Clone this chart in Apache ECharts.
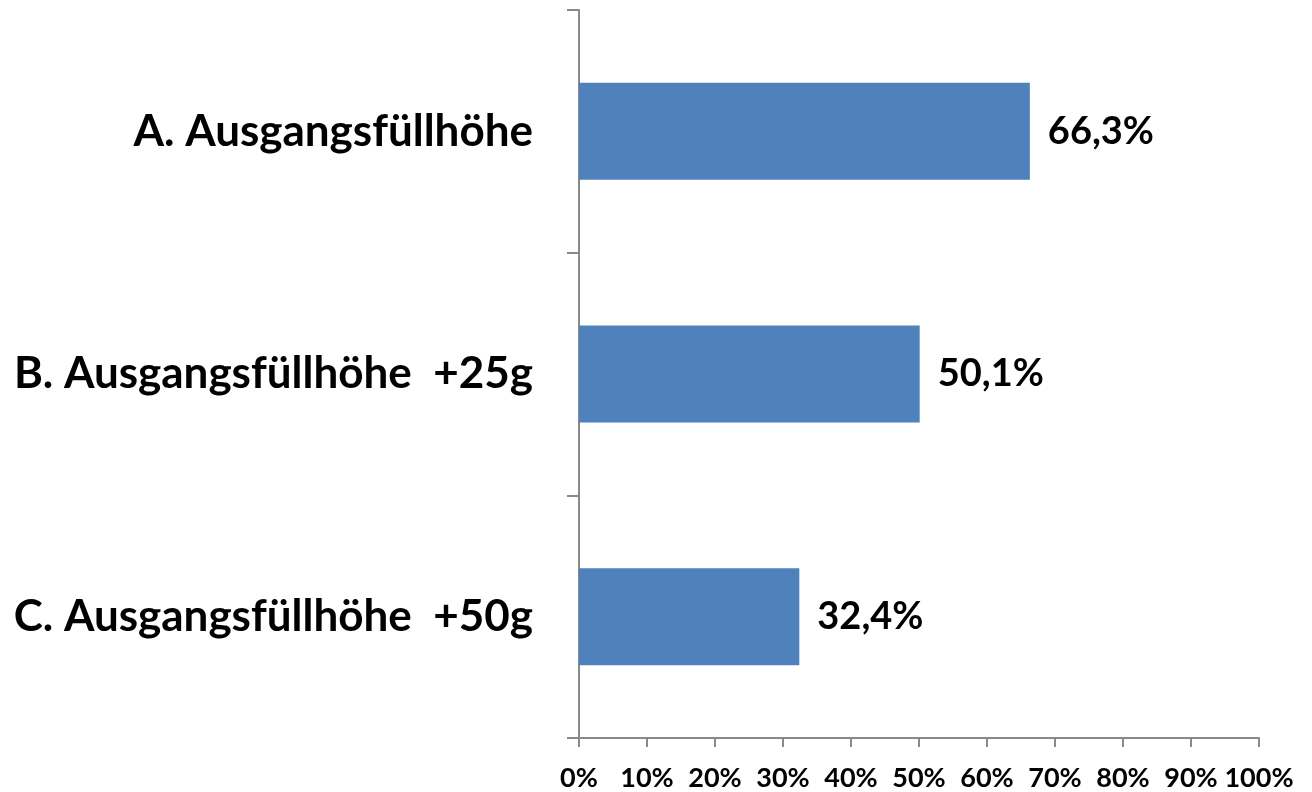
<!DOCTYPE html>
<html>
<head>
<meta charset="utf-8">
<script src="https://cdn.jsdelivr.net/npm/echarts@6/dist/echarts.min.js"></script>
<style>
  html, body { margin: 0; padding: 0; background: #fff; }
  #chart { width: 1312px; height: 792px; }
</style>
</head>
<body>
<div id="chart"></div>
<script>
const categories = ['A. Ausgangsfüllhöhe', 'B. Ausgangsfüllhöhe  +25g', 'C. Ausgangsfüllhöhe  +50g']
const values = [66.3, 50.1, 32.4]
const xTicks = [0, 10, 20, 30, 40, 50, 60, 70, 80, 90, 100]

const chart = echarts.init(document.getElementById('chart'), null, { renderer: 'canvas' })
const axisGray = '#898989'
chart.setOption({
  animation: false,
  textStyle: { fontFamily: 'Lato' },
  grid: { left: 579, right: 53, top: 10, bottom: 53, containLabel: false },
  xAxis: {
    type: 'value',
    min: xTicks[0],
    max: xTicks[xTicks.length - 1],
    interval: 10,
    axisLine: { show: true, lineStyle: { color: axisGray, width: 2 } },
    axisTick: { show: true, length: 9, lineStyle: { color: axisGray, width: 2 } },
    splitLine: { show: false },
    axisLabel: {
      formatter: v => v + '%',
      color: '#000',
      fontWeight: 'bold',
      fontSize: 27,
      margin: 27,
      fontFamily: 'Lato'
    }
  },
  yAxis: {
    type: 'category',
    data: categories,
    inverse: true,
    axisLine: { show: true, lineStyle: { color: axisGray, width: 2 } },
    axisTick: { show: true, length: 12, inside: false, lineStyle: { color: axisGray, width: 2 } },
    axisLabel: {
      color: '#000',
      fontWeight: 'bold',
      fontSize: 44,
      margin: 46,
      fontFamily: 'Lato'
    }
  },
  series: [{
    type: 'bar',
    data: values,
    barCategoryGap: '60%',
    itemStyle: { color: '#4F81BD' },
    label: {
      show: true,
      position: 'right',
      distance: 18,
      formatter: p => p.value.toFixed(1).replace('.', ',') + '%',
      color: '#000',
      fontWeight: 'bold',
      fontSize: 38,
      fontFamily: 'Lato'
    }
  }]
})
window.addEventListener('resize', () => chart.resize())
</script>
</body>
</html>
